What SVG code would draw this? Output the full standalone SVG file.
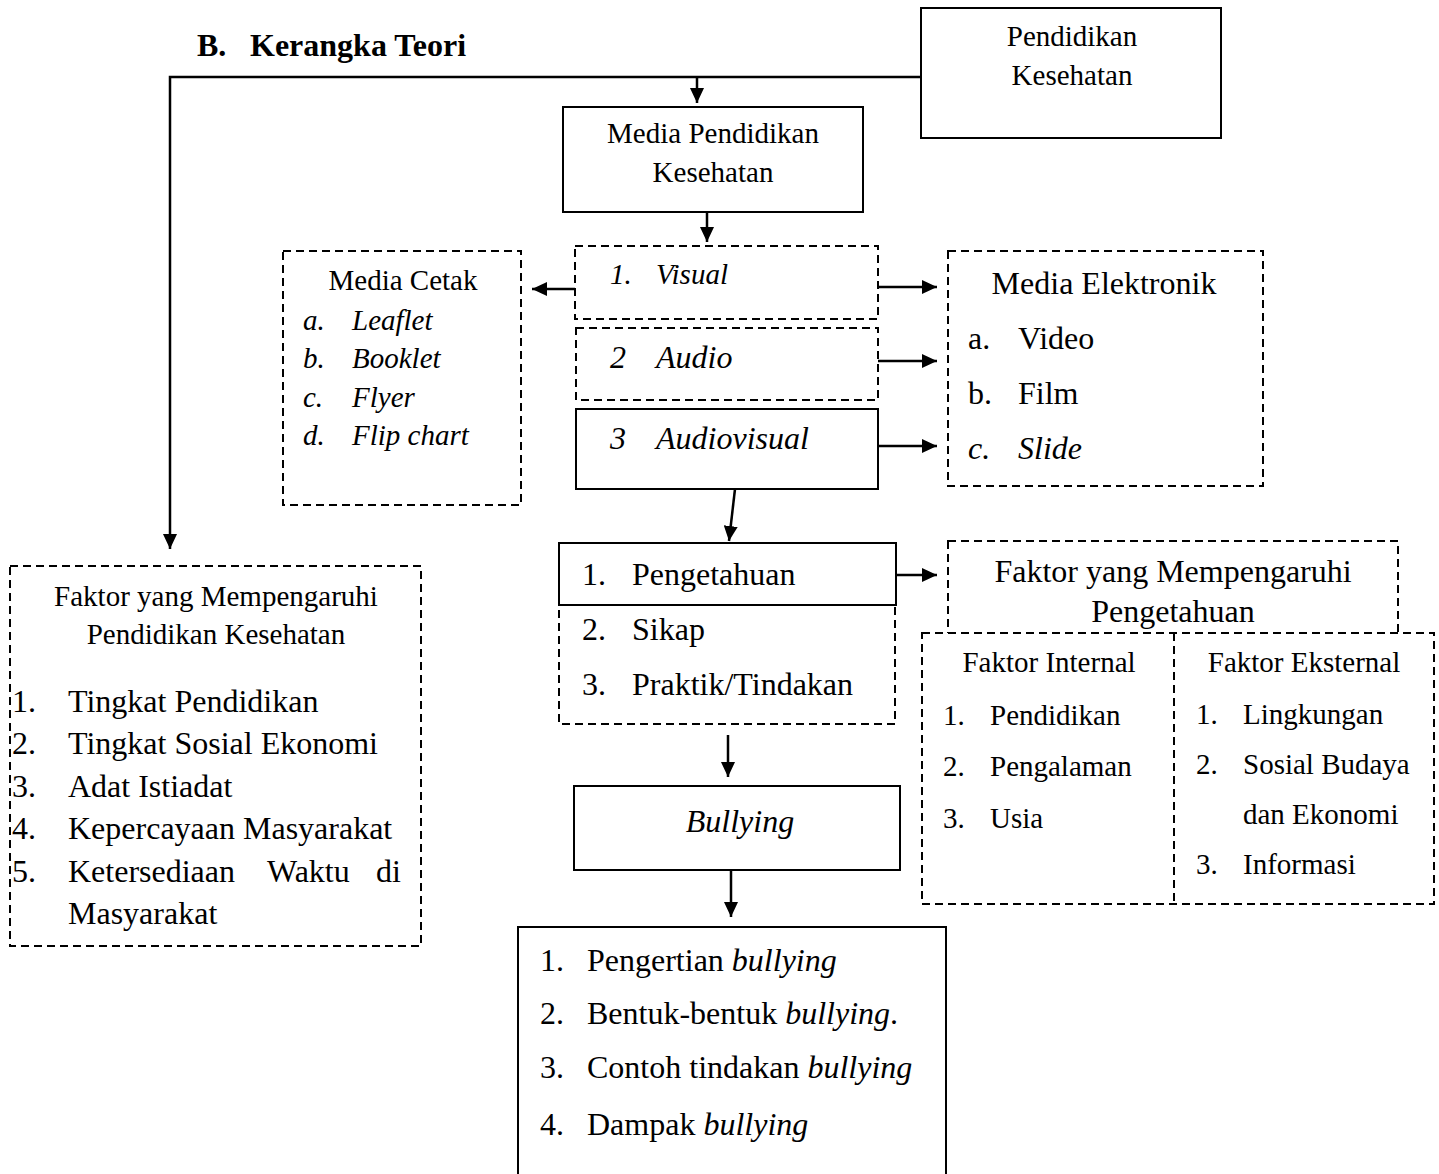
<svg xmlns="http://www.w3.org/2000/svg" width="1439" height="1174" viewBox="0 0 1439 1174">
<defs>
<marker id="ah" viewBox="0 0 15 14" refX="15" refY="7" markerWidth="15" markerHeight="14" markerUnits="userSpaceOnUse" orient="auto">
<path d="M0,0 L15,7 L0,14 Z" fill="#000"/>
</marker>
</defs>
<style>
text{font-family:"Liberation Serif","Times New Roman",serif;fill:#000}
.s29{font-size:29px}
.s32{font-size:32px}
.it{font-style:italic}
.c{text-anchor:middle}
.solid{fill:#fff;stroke:#000;stroke-width:2}
.dash{fill:#fff;stroke:#000;stroke-width:2;stroke-dasharray:8,5}
.ln{fill:none;stroke:#000;stroke-width:2.5}
</style>
<rect width="1439" height="1174" fill="#fff"/>
<text x="197" y="56" style="font-size:32px;font-weight:bold">B.</text>
<text x="250" y="56" style="font-size:32px;font-weight:bold">Kerangka Teori</text>

<g id="connectors">
<polyline class="ln" points="921,77 170,77 170,549" marker-end="url(#ah)"/>
<line class="ln" x1="697" y1="77" x2="697" y2="103" marker-end="url(#ah)"/>
<line class="ln" x1="707" y1="212" x2="707" y2="242" marker-end="url(#ah)"/>
<line class="ln" x1="575" y1="289" x2="532" y2="289" marker-end="url(#ah)"/>
<line class="ln" x1="878" y1="287" x2="937" y2="287" marker-end="url(#ah)"/>
<line class="ln" x1="878" y1="361" x2="937" y2="361" marker-end="url(#ah)"/>
<line class="ln" x1="878" y1="446" x2="937" y2="446" marker-end="url(#ah)"/>
<line class="ln" x1="735" y1="489" x2="729" y2="541" marker-end="url(#ah)"/>
<line class="ln" x1="896" y1="575" x2="937" y2="575" marker-end="url(#ah)"/>
<line class="ln" x1="728" y1="735" x2="728" y2="777" marker-end="url(#ah)"/>
<line class="ln" x1="731" y1="871" x2="731" y2="917" marker-end="url(#ah)"/>
</g>

<g id="pendidikan-kesehatan">
<rect class="solid" x="921" y="8" width="300" height="130"/>
<text class="s29 c" x="1072" y="46">Pendidikan</text>
<text class="s29 c" x="1072" y="85">Kesehatan</text>
</g>

<g id="media-pendidikan">
<rect class="solid" x="563" y="107" width="300" height="105"/>
<text class="s29 c" x="713" y="143">Media Pendidikan</text>
<text class="s29 c" x="713" y="182">Kesehatan</text>
</g>

<g id="visual">
<rect class="dash" x="575" y="246" width="303" height="73"/>
<text class="s29 it" x="610" y="284">1.</text>
<text class="s29 it" x="656" y="284">Visual</text>
</g>

<g id="audio">
<rect class="dash" x="576" y="328" width="302" height="72"/>
<text class="s32 it" x="610" y="368">2</text>
<text class="s32 it" x="656" y="368">Audio</text>
</g>

<g id="audiovisual">
<rect class="solid" x="576" y="409" width="302" height="80"/>
<text class="s32 it" x="610" y="449">3</text>
<text class="s32 it" x="656" y="449">Audiovisual</text>
</g>

<g id="media-cetak">
<rect class="dash" x="283" y="251" width="238" height="254"/>
<text class="s29 c" x="403" y="290">Media Cetak</text>
<text class="s29 it" x="303" y="330">a.</text><text class="s29 it" x="352" y="330">Leaflet</text>
<text class="s29 it" x="303" y="368">b.</text><text class="s29 it" x="352" y="368">Booklet</text>
<text class="s29 it" x="303" y="407">c.</text><text class="s29 it" x="352" y="407">Flyer</text>
<text class="s29 it" x="303" y="445">d.</text><text class="s29 it" x="352" y="445">Flip chart</text>
</g>

<g id="media-elektronik">
<rect class="dash" x="948" y="251" width="315" height="235"/>
<text class="s32 c" x="1104" y="294">Media Elektronik</text>
<text class="s32" x="968" y="349">a.</text><text class="s32" x="1018" y="349">Video</text>
<text class="s32" x="968" y="404">b.</text><text class="s32" x="1018" y="404">Film</text>
<text class="s32 it" x="968" y="459">c.</text><text class="s32 it" x="1018" y="459">Slide</text>
</g>

<g id="pengetahuan">
<rect class="dash" x="559" y="605" width="336" height="119"/>
<rect class="solid" x="559" y="543" width="337" height="62"/>
<text class="s32" x="582" y="585">1.</text><text class="s32" x="632" y="585">Pengetahuan</text>
<text class="s32" x="582" y="640">2.</text><text class="s32" x="632" y="640">Sikap</text>
<text class="s32" x="582" y="695">3.</text><text class="s32" x="632" y="695">Praktik/Tindakan</text>
</g>

<g id="faktor-pengetahuan">
<rect class="dash" x="948" y="541" width="450" height="100"/>
<text class="s32 c" x="1173" y="582">Faktor yang Mempengaruhi</text>
<text class="s32 c" x="1173" y="622">Pengetahuan</text>
</g>

<g id="faktor-internal-eksternal">
<rect class="dash" x="922" y="633" width="512" height="271"/>
<line class="dash" x1="1174" y1="633" x2="1174" y2="904"/>
<text class="s29 c" x="1049" y="672">Faktor Internal</text>
<text class="s29" x="943" y="725">1.</text><text class="s29" x="990" y="725">Pendidikan</text>
<text class="s29" x="943" y="776">2.</text><text class="s29" x="990" y="776">Pengalaman</text>
<text class="s29" x="943" y="828">3.</text><text class="s29" x="990" y="828">Usia</text>
<text class="s29 c" x="1304" y="672">Faktor Eksternal</text>
<text class="s29" x="1196" y="724">1.</text><text class="s29" x="1243" y="724">Lingkungan</text>
<text class="s29" x="1196" y="774">2.</text><text class="s29" x="1243" y="774">Sosial Budaya</text>
<text class="s29" x="1243" y="824">dan Ekonomi</text>
<text class="s29" x="1196" y="874">3.</text><text class="s29" x="1243" y="874">Informasi</text>
</g>

<g id="bullying">
<rect class="solid" x="574" y="786" width="326" height="84"/>
<text class="s32 it c" x="740" y="832">Bullying</text>
</g>

<g id="bullying-topics">
<rect class="solid" x="518" y="927" width="428" height="260"/>
<text class="s32" x="540" y="971">1.</text><text class="s32" x="587" y="971">Pengertian <tspan class="it">bullying</tspan></text>
<text class="s32" x="540" y="1024">2.</text><text class="s32" x="587" y="1024">Bentuk-bentuk <tspan class="it">bullying</tspan>.</text>
<text class="s32" x="540" y="1078">3.</text><text class="s32" x="587" y="1078">Contoh tindakan <tspan class="it">bullying</tspan></text>
<text class="s32" x="540" y="1135">4.</text><text class="s32" x="587" y="1135">Dampak <tspan class="it">bullying</tspan></text>
</g>

<g id="faktor-pendidikan">
<rect class="dash" x="10" y="566" width="411" height="380"/>
<text class="s29 c" x="216" y="606">Faktor yang Mempengaruhi</text>
<text class="s29 c" x="216" y="644">Pendidikan Kesehatan</text>
<text class="s32" x="12" y="712">1.</text><text class="s32" x="68" y="712">Tingkat Pendidikan</text>
<text class="s32" x="12" y="754">2.</text><text class="s32" x="68" y="754">Tingkat Sosial Ekonomi</text>
<text class="s32" x="12" y="797">3.</text><text class="s32" x="68" y="797">Adat Istiadat</text>
<text class="s32" x="12" y="839">4.</text><text class="s32" x="68" y="839">Kepercayaan Masyarakat</text>
<text class="s32" x="12" y="882">5.</text><text class="s32" x="68" y="882">Ketersediaan</text><text class="s32" x="267" y="882">Waktu</text><text class="s32" x="401" y="882" text-anchor="end">di</text>
<text class="s32" x="68" y="924">Masyarakat</text>
</g>
</svg>
